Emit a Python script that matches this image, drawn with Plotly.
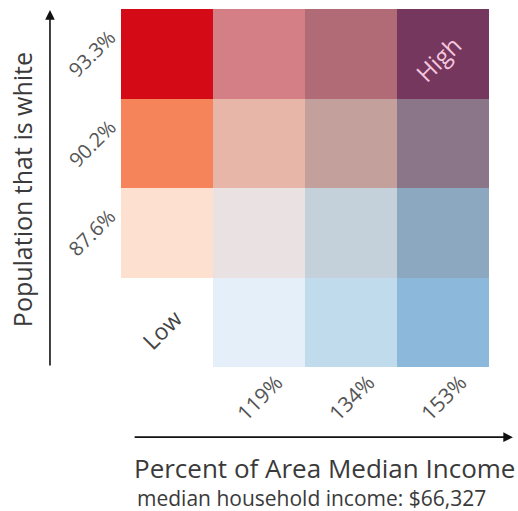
import plotly.graph_objects as go

# Data
income_labels = ["Low", "119%", "134%", "153%"]          # columns (left -> right)
white_labels = ["Low", "87.6%", "90.2%", "93.3%"]         # rows (bottom -> top)
# Bivariate colour grid, rows bottom -> top, columns left -> right
cell_colors = [
    ["#ffffff", "#e4eff9", "#bfdbec", "#8cb8dc"],
    ["#fde0d0", "#eae2e2", "#c4d0da", "#8ca8c1"],
    ["#f6845a", "#e8b6a9", "#c3a09c", "#8b7588"],
    ["#d50a17", "#d47e86", "#b06b77", "#76375f"],
]
x_title = "Percent of Area Median Income"
x_subtitle = "median household income: $66,327"
y_title = "Population that is white"

FONT = "Open Sans"
n_rows = len(white_labels)
n_cols = len(income_labels)
n = n_rows * n_cols

z = [[r * n_cols + c for c in range(n_cols)] for r in range(n_rows)]
flat = [col for row in cell_colors for col in row]
colorscale = []
for k, col in enumerate(flat):
    lo = max(0.0, (k - 0.5) / (n - 1))
    hi = min(1.0, (k + 0.5) / (n - 1))
    colorscale.append([lo, col])
    colorscale.append([hi, col])

fig = go.Figure(go.Heatmap(
    x=list(range(n_cols)), y=list(range(n_rows)), z=z,
    zmin=0, zmax=n - 1, colorscale=colorscale, showscale=False,
    hoverinfo="skip",
))

ann = []
# y tick labels (rotated)
for r in range(1, n_rows):
    ann.append(dict(x=-0.079, xref="x domain", y=r + 0.0, yref="y", text=white_labels[r],
                    textangle=-45, showarrow=False, xanchor="center", yanchor="middle",
                    font=dict(family=FONT, size=20, color="#555555")))
# x tick labels (rotated)
for c in range(1, n_cols):
    ann.append(dict(x=c, xref="x", y=-0.087, yref="y domain", text=income_labels[c],
                    textangle=-45, showarrow=False, xanchor="center", yanchor="middle",
                    font=dict(family=FONT, size=21, color="#555555")))
# corner labels
ann.append(dict(x=-0.05, y=-0.08, xref="x", yref="y", text="Low", textangle=-45, showarrow=False,
                font=dict(family=FONT, size=23, color="#444444")))
ann.append(dict(x=n_cols - 1 - 0.05, y=n_rows - 1 - 0.05, xref="x", yref="y", text="High",
                textangle=-45, showarrow=False, font=dict(family=FONT, size=24, color="#f3c6dc")))
# axis arrows
ann.append(dict(x=-0.193, y=0.997, xref="x domain", yref="y domain",
                ax=-0.193, ay=0.0, axref="x domain", ayref="y domain",
                showarrow=True, arrowhead=2, arrowsize=1.2, arrowwidth=1.6,
                arrowcolor="#111111", text=""))
ann.append(dict(x=1.065, y=-0.196, xref="x domain", yref="y domain",
                ax=0.033, ay=-0.196, axref="x domain", ayref="y domain",
                showarrow=True, arrowhead=2, arrowsize=1.2, arrowwidth=1.6,
                arrowcolor="#111111", text=""))
# titles
ann.append(dict(x=0.03, y=-0.282, xref="x domain", yref="y domain", text=x_title,
                showarrow=False, xanchor="left", yanchor="middle",
                font=dict(family=FONT, size=26, color="#3a3a3a")))
ann.append(dict(x=0.037, y=-0.366, xref="x domain", yref="y domain", text=x_subtitle,
                showarrow=False, xanchor="left", yanchor="middle",
                font=dict(family=FONT, size=21, color="#3a3a3a")))
ann.append(dict(x=-0.269, y=0.494, xref="x domain", yref="y domain", text=y_title,
                textangle=-90, showarrow=False, xanchor="center", yanchor="middle",
                font=dict(family=FONT, size=25, color="#3a3a3a")))

fig.update_layout(
    width=518, height=511,
    margin=dict(l=121, r=29, t=9, b=144),
    paper_bgcolor="white", plot_bgcolor="white",
    xaxis=dict(range=[-0.5, n_cols - 0.5], showticklabels=False, showgrid=False,
               zeroline=False, ticks="", fixedrange=True),
    yaxis=dict(range=[-0.5, n_rows - 0.5], showticklabels=False, showgrid=False,
               zeroline=False, ticks="", fixedrange=True),
    annotations=ann,
    showlegend=False,
)

fig.write_html("out.html", config={"displayModeBar": False},
               post_script="document.body.style.margin='0';document.body.style.overflow='hidden';")
